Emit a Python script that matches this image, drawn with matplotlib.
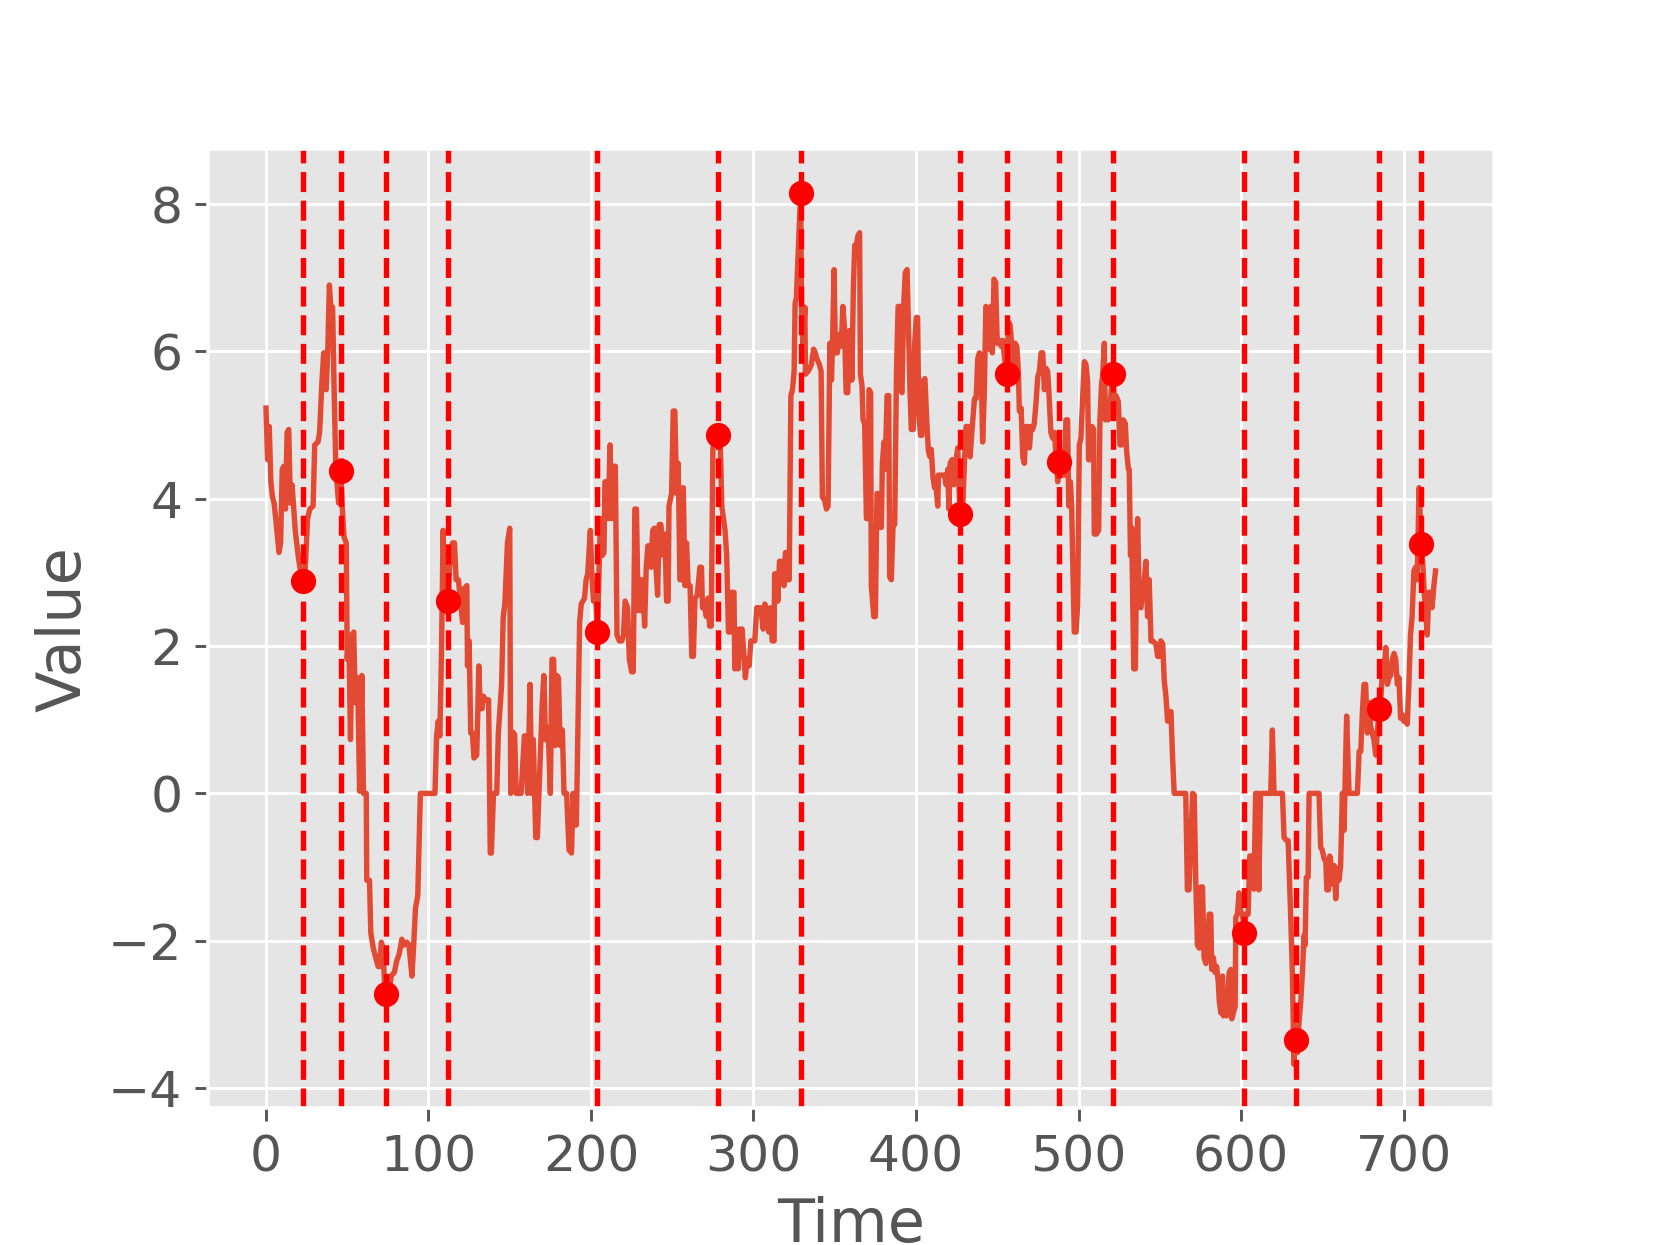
import numpy as np
import matplotlib
matplotlib.use("Agg")
import matplotlib.pyplot as plt

plt.style.use('ggplot')
plt.rcParams['font.size'] = 14

# series vertices (time, value)
trace = [
    (0, 5.23), (1, 4.53), (2, 4.98), (3, 4.23), (4, 4.02), (5, 3.94), (6, 3.73), (8, 3.27),
    (9, 3.4), (10, 4.4), (11, 4.44), (12, 3.86), (13, 4.9), (14, 4.94), (15, 3.94), (16, 4.19),
    (17, 3.9), (18, 3.57), (20, 3.19), (21.5, 2.98), (23, 2.88), (24, 2.98), (25.6, 3.73),
    (27, 3.86), (29, 3.9), (30, 4.73), (32, 4.77), (33, 4.9), (34.4, 5.57), (35.5, 5.98),
    (37, 5.48), (38, 5.98), (39, 6.9), (40, 6.57), (41, 6.6), (42, 5.4), (43, 4.4),
    (44.7, 3.94), (46, 4.37), (47, 3.86), (48, 3.48), (49.4, 3.4), (50, 1.82), (51, 2.15),
    (52, 0.73), (53, 2.15), (54, 2.19), (55, 1.23), (56.4, 1.57), (57.6, 0.03), (59, 1.6),
    (60, 0.0), (61.7, 0.0), (62, -1.18), (63.7, -1.18), (64.5, -1.89), (66, -2.1),
    (68, -2.27), (69, -2.35), (70, -2.35), (71, -2.02), (72, -2.1), (73, -2.6), (74, -2.73),
    (76, -2.68), (77, -2.48), (79, -2.43), (80.5, -2.27), (82, -2.18), (83.6, -1.98),
    (85, -2.06), (86.7, -2.02), (88, -2.06), (89.8, -2.48), (90.8, -2.1), (92, -1.56),
    (93.4, -1.39), (95, 0.0), (104, 0.0), (105, 0.78), (106, 0.98), (107, 0.78), (108, 1.9),
    (109, 3.57), (110, 2.73), (111, 3.07), (112, 2.61), (113, 3.07), (114.8, 3.4), (116, 3.4),
    (117, 2.9), (118.4, 2.9), (119.5, 2.65), (121, 2.32), (122, 2.78), (123.6, 2.82),
    (124, 1.73), (125, 2.07), (126, 0.82), (127, 0.82), (128, 0.48), (129.7, 0.52),
    (131, 1.73), (131.8, 1.15), (133, 1.15), (133.8, 1.32), (135, 1.27), (137, 1.27),
    (138, -0.81), (138.7, -0.81), (140, 0.0), (142, 0.0), (143, 0.82), (145, 1.48),
    (146, 2.4), (147, 2.57), (148.6, 3.4), (150, 3.6), (150.6, 0.0), (152, 0.83), (153, 0.8),
    (154, 0.0), (157, 0.0), (159, 0.78), (160, 0.78), (161, 0.0), (162.5, 1.48), (163.5, 0.0),
    (164.5, 0.73), (166, -0.6), (167, -0.6), (168, 0.0), (170, 1.23), (171, 1.6), (172, 0.73),
    (173, 0.9), (174, 0.65), (175, 0.0), (176, 1.82), (177, 1.82), (178, 0.65), (179, 1.6),
    (180, 1.57), (181, 0.65), (182.4, 0.86), (183.4, 0.0), (185, 0.0), (186.5, -0.77),
    (188, -0.81), (189, 0.0), (190, -0.43), (191, -0.43), (193, 2.32), (194, 2.57),
    (196, 2.65), (197, 2.9), (198, 2.98), (199.6, 3.57), (200.5, 2.98), (201.5, 2.61),
    (203, 2.61), (204, 2.19), (205.8, 3.73), (207, 3.23), (208, 3.27), (208.6, 4.23),
    (209.6, 4.23), (210.6, 3.73), (211.7, 4.73), (212.7, 3.73), (213.7, 4.44), (215, 4.44),
    (216, 2.15), (217.4, 2.07), (219, 2.07), (220, 2.15), (221, 2.61), (222.5, 2.52),
    (223.6, 1.82), (225, 1.65), (226, 1.65), (227, 3.86), (228, 3.86), (229, 2.48), (230, 2.9),
    (231, 2.48), (232, 2.9), (233, 2.27), (234, 3.07), (235, 3.36), (236, 3.36), (237, 3.07),
    (238, 3.57), (239, 3.6), (240, 3.07), (241, 2.69), (242, 3.65), (243, 3.65),
    (244.5, 3.23), (245.5, 3.52), (246.5, 2.61), (247.5, 2.61), (248, 3.9), (249.6, 4.07),
    (250.6, 5.19), (251.6, 5.19), (252.7, 4.07), (253.7, 4.48), (254.7, 2.9), (255.7, 2.9),
    (256.8, 4.15), (257.8, 2.82), (258.8, 3.4), (259.8, 2.82), (261, 2.82), (262, 1.86),
    (263, 1.86), (264, 2.65), (265.4, 2.69), (267, 3.07), (268, 3.07), (268.6, 2.52),
    (270, 2.52), (271, 2.4), (272, 2.65), (273, 2.27), (274, 2.27), (275, 4.69), (278, 4.86),
    (279.5, 4.82), (280.5, 3.9), (282.5, 3.57), (283.5, 3.23), (284.6, 2.19), (285.6, 2.19),
    (286.5, 2.73), (288, 2.73), (288.5, 1.69), (289.5, 2.23), (290.6, 1.69), (291.6, 2.23),
    (293, 2.23), (294, 1.9), (295, 1.57), (296, 1.82), (297.3, 1.73), (298.4, 2.07),
    (300.8, 2.07), (302, 2.52), (303, 2.52), (304.5, 2.52), (306, 2.23), (307, 2.57),
    (308.4, 2.48), (309.4, 2.19), (310.6, 2.52), (311.5, 2.07), (312.7, 2.07), (313, 2.98),
    (314, 2.98), (315, 2.61), (316, 3.15), (317.6, 3.15), (318.8, 2.82), (319.7, 3.27),
    (321, 2.9), (322, 2.9), (323, 5.4), (324, 5.48), (325, 5.73), (325.6, 6.65),
    (326.4, 6.73), (327, 7.07), (329, 8.15), (329.6, 6.57), (330.5, 5.98), (331.6, 6.6),
    (332, 5.69), (333.6, 5.73), (334.6, 5.77), (335.6, 5.82), (337, 6.03), (338, 5.98),
    (339, 5.9), (340.6, 5.82), (341.6, 5.73), (342.4, 4.02), (343.8, 3.98), (344.9, 3.86),
    (345.9, 3.9), (347, 6.11), (348, 5.61), (348.6, 6.07), (349.6, 7.11), (350.4, 5.98),
    (351.6, 5.98), (352.7, 6.23), (354, 6.07), (355, 6.61), (356, 6.32), (357, 5.44),
    (358, 5.44), (359, 6.28), (360, 6.28), (360.5, 5.61), (361.5, 6.9), (362.3, 7.44),
    (363.3, 7.44), (364.3, 7.57), (365.3, 7.61), (365.8, 5.69), (366.8, 5.53), (367.4, 5.07),
    (368.4, 5.02), (369.5, 3.73), (370.5, 3.73), (371.1, 5.48), (372.1, 5.44), (372.5, 2.82),
    (374, 2.4), (375, 2.4), (376, 4.07), (377, 4.07), (377.7, 3.61), (378.7, 3.61),
    (379.3, 4.48), (380.3, 4.77), (381, 4.4), (382.2, 5.4), (383.2, 5.4), (383.8, 2.94),
    (384.8, 2.9), (385.9, 3.65), (386.9, 3.65), (388, 5.73), (389, 6.61), (390, 6.61),
    (390.6, 5.48), (391.4, 5.44), (392.4, 6.61), (393.4, 7.07), (394.5, 7.11), (395.5, 6.23),
    (396.3, 5.48), (397.1, 4.94), (398.3, 4.94), (399.2, 6.1), (400.2, 6.46), (401, 6.46),
    (401.7, 5.15), (402.8, 4.86), (403.6, 4.86), (404.3, 5.6), (405.5, 5.63), (406.6, 5.07),
    (407.6, 4.65), (408.6, 4.57), (409.4, 4.67), (410.4, 4.3), (411.4, 4.15), (412.4, 4.15),
    (413.4, 3.9), (413.8, 4.32), (417.5, 4.32), (418.5, 4.19), (419.6, 4.4), (420.2, 3.86),
    (421, 4.48), (422.2, 4.53), (423.3, 4.19), (424.7, 4.53), (425.7, 4.69), (427, 3.79),
    (428.8, 3.9), (429.8, 4.48), (430.8, 4.98), (432.2, 4.98), (433.3, 4.57), (434.5, 4.94),
    (436, 5.36), (437, 5.36), (438, 5.9), (439, 5.98), (440, 5.94), (441, 4.77), (442, 5.4),
    (443, 6.61), (444, 6.57), (445, 6.03), (446, 6.61), (447, 5.98), (448, 6.98), (449, 6.94),
    (450, 6.11), (451, 6.15), (452.4, 6.07), (453.4, 6.15), (454.5, 5.9), (456, 5.69),
    (456.9, 6.4), (457.9, 6.36), (459, 6.07), (460, 5.69), (461, 6.11), (462, 6.07),
    (463, 5.73), (463.6, 5.19), (464.7, 5.23), (465.7, 4.57), (466.7, 4.48), (467.7, 4.98),
    (468.8, 4.98), (469.8, 4.69), (470.8, 4.98), (471.8, 4.94), (472.8, 5.02), (473.9, 5.32),
    (474.9, 5.65), (475.9, 5.73), (477, 5.98), (478, 5.98), (479, 5.48), (480, 5.77),
    (481, 5.73), (481.7, 5.48), (483, 4.9), (484.1, 4.82), (485.2, 4.9), (486.2, 4.57),
    (487.2, 4.23), (488, 4.5), (489.2, 4.65), (490.3, 4.32), (491.3, 4.32), (492.3, 5.07),
    (493.3, 5.07), (494, 3.9), (495, 4.23), (495.8, 3.9), (496.4, 3.19), (497.4, 2.19),
    (498.5, 2.19), (499.5, 2.57), (500.5, 4.73), (501.5, 4.82), (502.6, 5.4), (503.6, 5.86),
    (504.6, 5.82), (505.6, 5.6), (506.2, 4.53), (507.7, 4.53), (508.3, 4.98), (509.3, 4.94),
    (509.7, 3.52), (511, 3.52), (512.4, 3.57), (513.2, 5.07), (514.2, 5.57), (514.8, 5.65),
    (515.9, 6.11), (516.5, 5.07), (517.3, 5.23), (518.3, 5.07), (519.3, 5.23), (521, 5.69),
    (522, 5.32), (523, 5.4), (524.5, 5.32), (525.5, 4.73), (526.7, 4.73), (527.6, 5.07),
    (528.8, 5.02), (529.6, 4.65), (530.7, 4.4), (531.2, 4.4), (532, 3.23), (532.7, 3.61),
    (533.3, 2.73), (534, 1.69), (535, 1.69), (535.8, 3.23), (536.4, 3.73), (537.4, 2.57),
    (538.4, 2.52), (539.4, 2.73), (540.5, 2.9), (541.5, 3.15), (542.5, 2.4), (543.5, 2.9),
    (544.6, 2.07), (545.6, 2.07), (547.6, 2.03), (548.7, 1.86), (549.7, 1.86), (550.7, 2.07),
    (551.8, 2.03), (552.8, 1.52), (553.8, 1.32), (554.8, 0.98), (555.8, 1.11), (556.9, 1.11),
    (557.9, 0.48), (558.9, 0.0), (566, 0.0), (567, -1.31), (568, -1.31), (569.2, -0.64),
    (570.2, 0.0), (571.2, -0.02), (572.2, -1.23), (573.2, -2.06), (574.3, -2.1),
    (575.3, -1.27), (576.3, -1.27), (577.3, -2.23), (578.4, -2.31), (579.4, -2.06),
    (580.4, -1.64), (581.4, -1.64), (582, -2.39), (583, -2.23), (584, -2.43), (585, -2.35),
    (586, -2.56), (586.6, -2.81), (587.6, -2.98), (588.6, -2.48), (589.2, -3.02),
    (590.2, -2.81), (591.1, -3.02), (591.7, -2.81), (592.7, -2.43), (593.7, -2.39),
    (594.3, -3.06), (595.3, -2.98), (596.4, -2.89), (596.8, -1.68), (597.8, -1.64),
    (598.8, -1.35), (599.8, -1.6), (600.9, -1.64), (602, -1.89), (603, -1.64), (604.4, -1.64),
    (605.4, -0.85), (607, -0.85), (608, -1.3), (609, 0.0), (610, 0.0), (611, -1.31),
    (612, 0.0), (618.3, 0.0), (619.3, 0.86), (620.3, 0.0), (625.5, 0.0), (626.5, -0.6),
    (628, -0.64), (629, -0.64), (630.6, -1.68), (631.6, -2.43), (632.6, -3.68),
    (633.4, -3.18), (634, -3.35), (634.7, -3.52), (635.7, -3.1), (636.7, -2.85),
    (637.8, -2.43), (638.8, -1.93), (639.4, -2.06), (640.2, -1.14), (641.3, -1.14),
    (641.9, 0.0), (648, 0.0), (649, -0.73), (650, -0.77), (651.2, -0.89), (652.2, -0.93),
    (652.8, -1.31), (653.8, -1.31), (654.6, -0.85), (655.2, -0.93), (656.3, -1.23),
    (657.3, -0.98), (658.3, -1.43), (659.3, -1.02), (660.3, -1.18), (661.3, -0.98),
    (662.4, 0.0), (663.4, -0.5), (665, 1.05), (666.5, 0.0), (669.6, 0.0), (671.6, 0.0),
    (672.7, 0.57), (673.7, 0.57), (674.7, 1.11), (675.7, 1.48), (676.7, 1.48), (677.8, 0.82),
    (678.8, 1.23), (679.8, 0.9), (680.8, 0.82), (681.8, 0.73), (682.9, 0.52), (685, 1.15),
    (686, 1.27), (687, 1.65), (688, 1.65), (689.1, 1.98), (690.1, 1.48), (691.1, 1.57),
    (692.1, 1.6), (693.1, 1.82), (694.2, 1.9), (695.2, 1.82), (696.2, 1.48), (697.2, 1.57),
    (698.2, 1.02), (699.2, 1.07), (700.2, 0.98), (701.3, 0.98), (702.3, 0.94), (703.3, 1.48),
    (704.3, 2.15), (705.3, 2.4), (706.4, 3.02), (707.4, 3.07), (708.4, 2.9), (709.6, 4.15),
    (711, 3.38), (712, 3.07), (712.7, 2.73), (713.5, 2.52), (714.6, 2.15), (715.6, 2.73),
    (716.6, 2.73), (717.6, 2.52), (718.7, 2.82), (719.7, 3.02),
]
time = [p[0] for p in trace]
value = [p[1] for p in trace]

# detected change points
cp_time = [23, 46, 74, 112, 204, 278, 329, 427, 456, 488, 521, 602, 634, 685, 711]
cp_value = [2.88, 4.37, -2.73, 2.61, 2.19, 4.86, 8.15, 3.79, 5.69, 4.5, 5.69, -1.89, -3.35, 1.15, 3.38]

fig, ax = plt.subplots(figsize=(6.4, 4.8), dpi=259.375)
ax.plot(time, value, color='#E24A33', linewidth=1.5)
for t in cp_time:
    ax.axvline(t, color='red', linestyle='--', linewidth=1.5)
ax.plot(cp_time, cp_value, 'ro')

ax.set_xticks(np.arange(0, 701, 100))
ax.set_yticks(np.arange(-4, 9, 2))
ax.set_xlabel('Time')
ax.set_ylabel('Value')

fig.savefig('out.png', dpi=259.375)
